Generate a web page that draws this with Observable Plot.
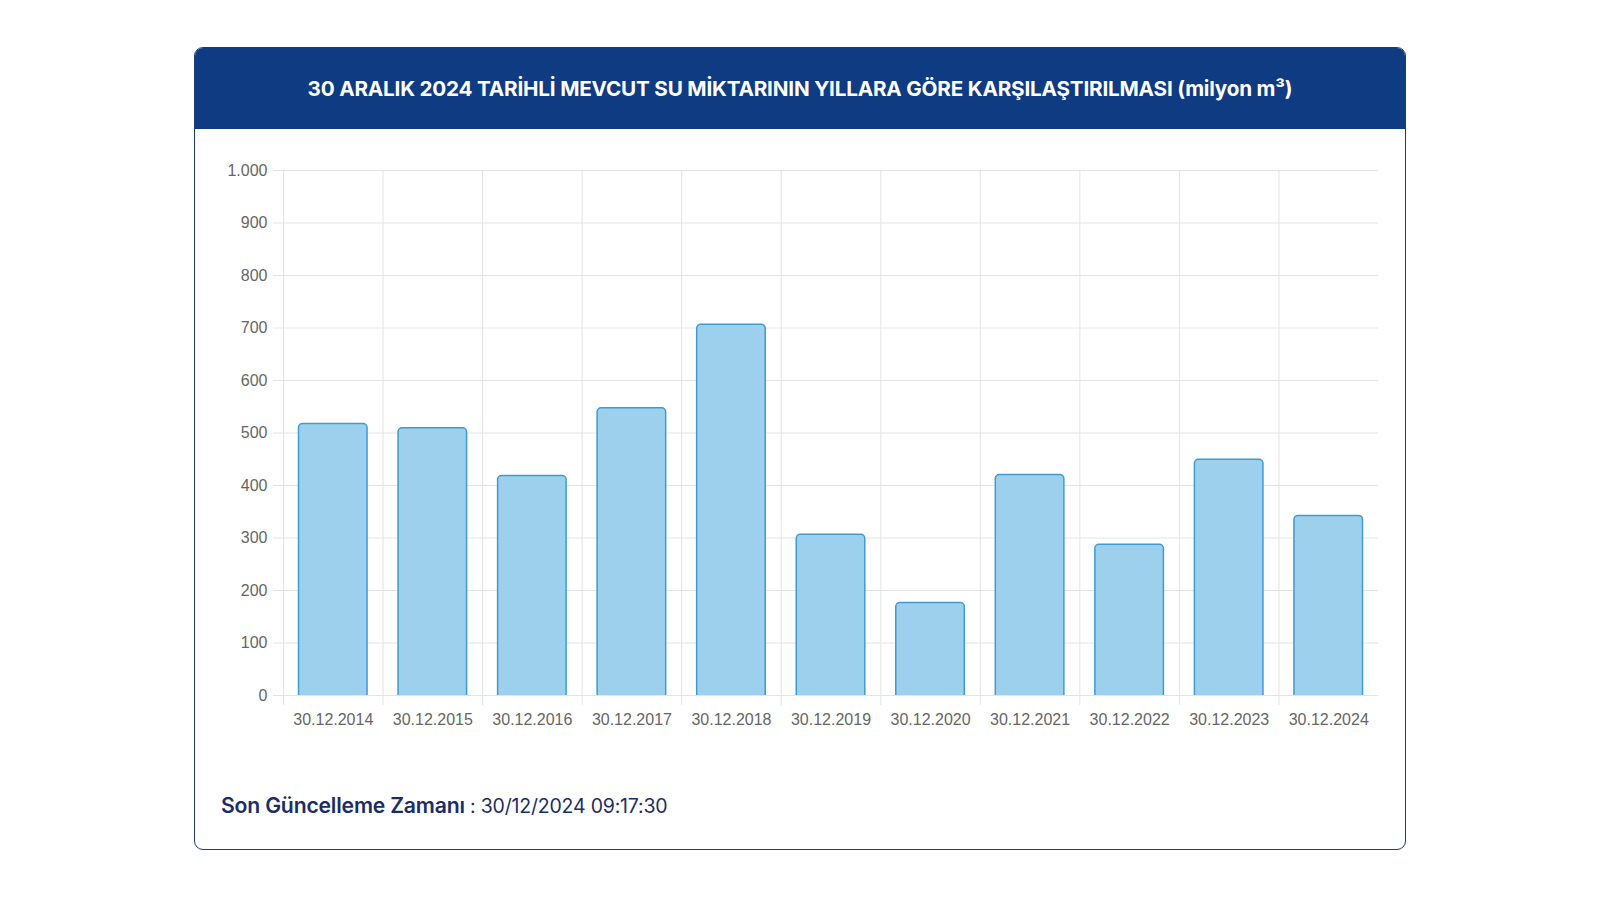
<!DOCTYPE html>
<html>
<head>
<meta charset="utf-8">
<script src="https://cdn.jsdelivr.net/npm/d3@7"></script>
<script src="https://cdn.jsdelivr.net/npm/@observablehq/plot@0.6"></script>
<style>
  html, body { margin: 0; padding: 0; background: #fff; width: 1600px; height: 900px; overflow: hidden; }
  body { position: relative; font-family: "Inter", "Open Sans", sans-serif; }
  #card { position: absolute; left: 194px; top: 47px; width: 1212px; height: 803px; box-sizing: border-box;
          border: 1.5px solid #1d3b7a; border-radius: 9px; overflow: hidden; background: #fff; }
  #header { position: absolute; left: 0; top: 0; right: 0; height: 81px; background: #0f3b82;
            display: flex; align-items: center; justify-content: center; }
  #title { color: #fff; font-family: "Inter", sans-serif; font-weight: 700; font-size: 20.7px; letter-spacing: -0.2px; white-space: nowrap; }
  #chart { position: absolute; left: 194px; top: 129px; }
  #footer { position: absolute; left: 221px; top: 792px; font-size: 19.5px; color: #1b2d66; white-space: nowrap; letter-spacing: -0.2px; }
  #footer b { font-weight: 600; font-size: 21.2px; }
</style>
</head>
<body>
<div id="card"><div id="header"><div id="title">30 ARALIK 2024 TARİHLİ MEVCUT SU MİKTARININ YILLARA GÖRE KARŞILAŞTIRILMASI (milyon m³)</div></div></div>
<div id="chart"></div>
<div id="footer"><b>Son Güncelleme Zamanı</b> : 30/12/2024 09:17:30</div>
<script>
const dates = ["30.12.2014","30.12.2015","30.12.2016","30.12.2017","30.12.2018","30.12.2019","30.12.2020","30.12.2021","30.12.2022","30.12.2023","30.12.2024"];
const volumes = [517, 509, 418, 547, 706, 306, 176, 420, 287, 449, 342];
const yTicks = [0, 100, 200, 300, 400, 500, 600, 700, 800, 900, 1000];

const data = dates.map((d, i) => ({date: d, value: volumes[i]}));
const trFormat = d3.formatLocale({decimal: ",", thousands: ".", grouping: [3], currency: ["₺", ""]}).format(",d");

const W = 1212, H = 640, mL = 89, mR = 28, mT = 41, mB = 74;
const step = (W - mL - mR) / dates.length;

const chart = Plot.plot({
  width: W, height: H,
  marginLeft: mL, marginRight: mR, marginTop: mT, marginBottom: mB,
  style: {fontFamily: "'Liberation Sans', Arial, sans-serif", fontSize: "16px", background: "transparent"},
  x: {type: "band", domain: dates, padding: 0, round: false},
  y: {domain: [0, 1000]},
  marks: [
    Plot.gridY(yTicks, {stroke: "#e4e4e4", strokeOpacity: 1}),
    Plot.ruleX(dates, {x: d => d, dx: -step / 2, insetBottom: -10, stroke: "#e4e4e4"}),
    Plot.rectY(data, {x: "date", y: "value", fill: "#9dd0ec", stroke: "#3f9bd2", strokeWidth: 1.5,
      insetLeft: 15.5, insetRight: 15.5, insetBottom: -8, rx: 4, clip: true}),
    Plot.axisY({ticks: yTicks, tickFormat: trFormat, tickSize: 10, tickPadding: 6, stroke: "#e4e4e4", fill: "#666", label: null}),
    Plot.axisX({tickSize: 0, tickPadding: 18, fill: "#666", label: null})
  ]
});
document.getElementById("chart").appendChild(chart);
</script>
</body>
</html>
